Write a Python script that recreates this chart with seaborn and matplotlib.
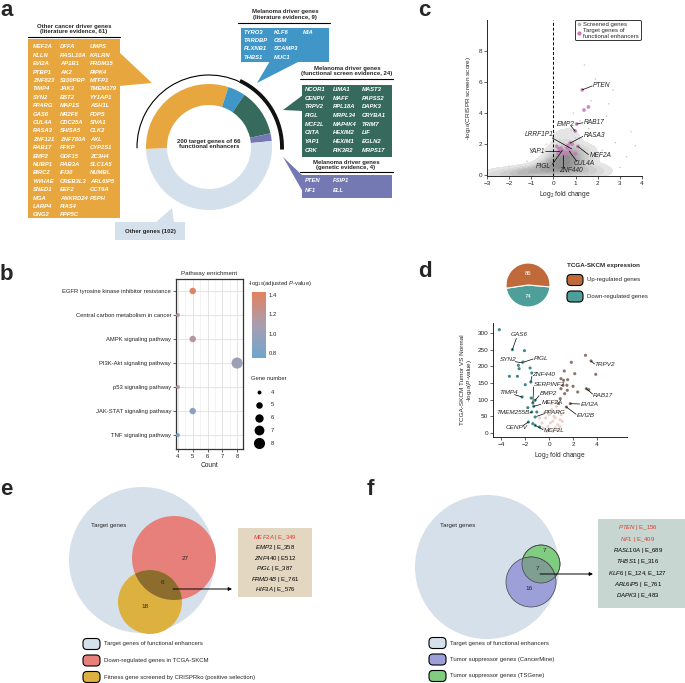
import matplotlib as mpl
import matplotlib.pyplot as plt
import numpy as np
import pandas as pd
import seaborn as sns
from matplotlib.colors import LinearSegmentedColormap, Normalize
from matplotlib.patches import Arc, Circle, FancyBboxPatch, Polygon, Rectangle

W, H = 685, 683

# ---- panel a: target genes grouped by evidence ----
group_counts = [61, 9, 24, 4, 102]
group_colors = ["#e8a73e", "#3f96c7", "#366a5c", "#7478b3", "#d4e0eb"]

other_cancer_cols = [
    ["MEF2A", "KLLN", "EVI2A", "PTBP1", "ZNF823", "TIMP4", "SYN2", "PPARG", "GAS6", "CUL4A", "RASA3",
     "ZNF121", "RAB17", "EMP2", "NUBP1", "BIRC2", "YWHAE", "SNED1", "MGA", "LARP4", "GNG2"],
    ["DFFA", "RASL10A", "AP1B1", "AK2", "S100PBP", "JAK3", "BST2", "MAP1S", "NR2F6", "CDC25A", "SHISA5",
     "ZNF780A", "PFKP", "GDF15", "RAB3A", "IFI30", "CREB3L3", "EEF2", "ANKRD24", "PIAS4", "PPP5C"],
    ["UMPS", "KALRN", "PRDM15", "RIPK4", "MTFP1", "TMEM179", "YY1AP1", "ASH1L", "FDPS", "SIVA1", "CLK2",
     "AXL", "CYP2S1", "ZC3H4", "SLC1A5", "NUMBL", "ARL6IP5", "CCT6A", "PSPH"],
]
melanoma_lit_cols = [["TYRO3", "TARDBP", "PLXNB1", "THBS1"], ["KLF6", "OSM", "SCAMP3", "MUC1"], ["MIA"]]
melanoma_screen_cols = [
    ["NCOR1", "CENPV", "TRPV2", "PIGL", "MCF2L", "CIITA", "YAP1", "CRK"],
    ["LIMA1", "MAFF", "RPL18A", "MRPL34", "MAP4K4", "HEXIM2", "HEXIM1", "PIK3R2"],
    ["MAST3", "PAPSS2", "DAPK3", "CRYBA1", "TRIM7", "LIF", "EGLN2", "MRPS17"],
]
melanoma_genetic_cols = [["PTEN", "NF1"], ["FSIP1", "ELL"]]

# ---- panel b: pathway enrichment ----
pathways = ["EGFR tyrosine kinase inhibitor resistance", "Central carbon metabolism in cancer",
            "AMPK signaling pathway", "PI3K-Akt signaling pathway", "p53 signaling pathway",
            "JAK-STAT signaling pathway", "TNF signaling pathway"]
pathway_counts = [5, 4, 5, 8, 4, 5, 4]
pathway_logp = [1.40, 1.18, 1.16, 1.02, 1.18, 0.92, 0.78]

# ---- panel c: CRISPR screen ----
# dense part of the screened-gene cloud
cloud_x = [0.1, 0.3, 0.5, 0.7, 0.9, 1.1, 0.2, 0.4, 0.6, 0.8, 1.0, 0.3, 0.5, 0.7, 0.9, 0.4, 0.6, 0.8,
           0.5, 0.7, 0.6, 0.5, 0.3, 0.2, 1.0, 1.2, 0.0, 0.1, 0.5, 0.6, 0.4, 0.7,
           -2.8, -2.4, -2.0, -1.7, -1.4, -1.2, -1.0, -0.8, -0.6, -0.4, -0.3, -0.2, -0.1, -0.5, -1.5,
           1.4, 1.6, 1.8, 2.1, 1.3, 1.5]
cloud_y = [0.2, 0.3, 0.2, 0.3, 0.2, 0.3, 0.6, 0.7, 0.6, 0.7, 0.6, 1.0, 1.1, 1.0, 1.1, 1.4, 1.5, 1.4,
           1.9, 1.8, 2.3, 2.7, 1.7, 1.2, 1.3, 0.9, 0.5, 0.9, 0.5, 0.9, 1.2, 1.6,
           0.05, 0.1, 0.1, 0.15, 0.2, 0.3, 0.2, 0.35, 0.3, 0.45, 0.7, 0.3, 0.9, 0.1, 0.05,
           0.4, 0.2, 0.3, 0.1, 1.6, 1.1]
# sparse screened genes
sparse_x = [0.8, 1.0, 0.3, 1.2, 1.6, 2.0, 0.9, 1.7, 2.4, 2.7, 0.4, -0.3, -0.6, 2.2, 2.8, 3.3, 3.0,
            1.9, 2.5, 3.5, 1.4, -1.2, -2.0, 3.7]
sparse_y = [2.9, 2.4, 2.3, 3.5, 3.0, 2.6, 4.0, 4.8, 3.8, 5.5, 3.4, 2.0, 1.5, 1.6, 2.1, 1.2, 0.5,
            6.2, 4.6, 2.8, 7.1, 0.9, 0.6, 1.9]
target_x = [1.30, 1.38, 1.58, 1.05, 0.98, 0.75, 1.10, 0.62, 0.30, 0.72, 0.45, 0.22, 0.15, 0.33,
            0.55, 1.00, 0.85, 0.40, 0.65, 0.25]
target_y = [5.50, 4.20, 4.40, 3.30, 2.85, 2.07, 1.86, 1.75, 1.54, 1.54, 1.33, 1.40, 1.86, 1.75,
            1.45, 1.39, 2.00, 1.60, 1.90, 1.70]
# name, point x, point y, text x, text y, ha, line end x, line end y
c_labels = [
    ("PTEN", 1.30, 5.50, 1.78, 5.78, "left", 1.75, 5.75),
    ("RAB17", 1.05, 3.30, 1.35, 3.38, "left", 1.33, 3.38),
    ("EMP2", 0.98, 2.85, 0.55, 3.30, "center", 0.80, 3.15),
    ("RASA3", 0.75, 2.07, 1.38, 2.55, "left", 1.33, 2.50),
    ("LRRF1P1", 0.82, 1.70, -0.65, 2.65, "center", -0.05, 2.40),
    ("YAP1", 0.30, 1.54, -0.40, 1.52, "right", -0.35, 1.52),
    ("MEF2A", 1.10, 1.86, 1.62, 1.25, "left", 1.58, 1.33),
    ("CUL4A", 0.72, 1.54, 0.93, 0.73, "left", 1.05, 0.90),
    ("PIGL", 0.40, 1.60, -0.10, 0.55, "right", -0.05, 0.70),
    ("ZNF440", 0.45, 1.33, 0.80, 0.30, "center", 0.45, 0.48),
]

# ---- panel d: TCGA-SKCM expression ----
expr_counts = [74, 86]
expr_colors = ["#4e9e99", "#c06a3c"]
down_x = [-4.17, -3.08, -2.07, -2.58, -2.20, -2.52, -1.60, -3.33, -2.66, -1.46, -1.54, -2.00, -2.27,
          -1.51, -1.37, -1.18, -1.30, -1.79, -1.04, -1.46, -1.18, -1.74, -1.37, -1.18, -0.81]
down_y = [310, 250, 247, 203, 213, 193, 195, 170, 170, 180, 153, 145, 108, 105, 90, 98, 80, 76, 63,
          63, 48, 33, 28, 23, 18]
up_x = [3.03, 1.85, 3.50, 1.26, 2.13, 3.89, 0.98, 1.20, 1.54, 1.15, 1.48, 0.98, 1.51, 1.29, 1.99,
        3.10, 3.30, 2.38, 0.92, 1.76, 1.43, 0.78]
up_y = [233, 212, 216, 186, 178, 176, 163, 158, 160, 143, 143, 133, 128, 118, 140, 133, 130, 123,
        103, 88, 78, 88]
ns_x = [-0.6, -0.3, -0.1, 0.1, 0.3, 0.5, 0.7, 0.9, -0.4, 0.0, 0.2, 0.4, 0.6, 0.8, 1.0, -0.2, 0.1,
        0.3, 0.5, 0.7, -0.5, 0.9, 0.2, 0.6, 1.1, -0.8]
ns_y = [30, 45, 20, 10, 35, 15, 25, 40, 60, 55, 70, 50, 80, 65, 55, 5, 30, 5, 45, 10, 15, 20, 88, 95, 35, 45]
d_labels = [
    ("GAS6", -3.08, 250, -2.50, 295, "center", -2.75, 284),
    ("SYN2", -2.20, 210, -3.40, 220, "center", -2.85, 214),
    ("PIGL", -2.10, 213, -1.30, 224, "left", -1.35, 222),
    ("ZNF440", -1.54, 153, -1.42, 177, "left", -1.45, 170),
    ("SERPINF2", -1.37, 90, -1.32, 145, "left", -1.30, 138),
    ("TIMP4", -2.27, 108, -3.42, 120, "center", -2.90, 115),
    ("BMP2", -1.18, 98, -0.78, 119, "left", -0.85, 112),
    ("MEF2A", -1.30, 80, -0.65, 90, "left", -0.70, 86),
    ("TMEM255B", -1.46, 63, -1.65, 60, "right", -1.62, 60),
    ("PPARG", -1.04, 50, -0.42, 60, "left", -0.48, 57),
    ("CENPV", -1.74, 33, -2.70, 16, "center", -2.20, 22),
    ("MCF2L", -1.18, 23, -0.48, 8, "left", -0.52, 10),
    ("TRPV2", 3.50, 216, 3.80, 205, "left", 3.78, 207),
    ("RAB17", 3.10, 133, 3.64, 113, "left", 3.62, 117),
    ("EVI2A", 1.76, 88, 2.60, 86, "left", 2.55, 87),
    ("EVI2B", 1.43, 78, 2.27, 52, "left", 2.25, 56),
]

# ---- panels e, f: overlaps ----
venn_e_numbers = ["27", "6", "18"]
venn_e_genes = [("MEF2A", "E_349"), ("EMP2", "E_358"), ("ZNF440", "E512"), ("PIGL", "E_387"),
                ("FRMD4B", "E_761"), ("HIF3A", "E_576")]
venn_e_legend = ["Target genes of functional enhancers", "Down-regulated genes in TCGA-SKCM",
                 "Fitness gene screened by CRISPRko (positive selection)"]
venn_f_numbers = ["7", "7", "16"]
venn_f_genes = [("PTEN", "E_156"), ("NF1", "E_409"), ("RASL10A", "E_689"), ("THBS1", "E_316"),
                ("KLF6", "E_124, E_127"), ("ARL6IP5", "E_761"), ("DAPK3", "E_483")]
venn_f_legend = ["Target genes of functional enhancers", "Tumor suppressor genes (CancerMine)",
                 "Tumor suppressor genes (TSGene)"]

sns.set_style("ticks")
plt.rcParams["font.family"] = ["Liberation Sans", "DejaVu Sans"]
plt.rcParams["mathtext.fontset"] = "custom"
plt.rcParams["mathtext.rm"] = "Liberation Sans"
plt.rcParams["mathtext.it"] = "Liberation Sans:italic"
plt.rcParams["mathtext.bf"] = "Liberation Sans:bold"
plt.rcParams["axes.linewidth"] = 0.7

fig = plt.figure(figsize=(W / 100, H / 100), dpi=100)


def fax(x0, y0, x1, y1):
    # axes from pixel box (top-left origin)
    return fig.add_axes([x0 / W, 1 - y1 / H, (x1 - x0) / W, (y1 - y0) / H])


ax0 = fax(0, 0, W, H)
ax0.set_xlim(0, W)
ax0.set_ylim(H, 0)
ax0.axis("off")

# panel letters
for lab, lx, ly in [("a", 0, 16), ("b", 0, 280), ("c", 418, 16), ("d", 418, 277), ("e", 0, 495), ("f", 367, 495)]:
    ax0.text(lx, ly, lab, fontsize=16, fontweight="bold", va="baseline", ha="left")

# ================= panel a =================
axa = fax(209 - 80, 147 - 80, 209 + 80, 147 + 80)
axa.pie(group_counts, colors=group_colors, radius=63, startangle=181.8, counterclock=False,
        wedgeprops=dict(width=21, edgecolor="none"))
axa.set_xlim(-80, 80)
axa.set_ylim(-80, 80)
axa.set_aspect("equal")
axa.axis("off")
axa.add_patch(Arc((0, 0), 144, 144, theta1=65, theta2=181, lw=0.8, color="black"))
axa.add_patch(Arc((0, 0), 146, 146, theta1=-2, theta2=65, lw=2.8, color="#111111"))
axa.text(0, 3, "200 target genes of 66\nfunctional enhancers", ha="center", va="center",
         fontsize=4.3, fontweight="bold", linespacing=1.0)


def callout(cols, box, tri, color, xcols, y0, dy, heading, hx, hy, line):
    x0, y0b, x1, y1b = box
    ax0.add_patch(Rectangle((x0, y0b), x1 - x0, y1b - y0b, color=color, lw=0))
    ax0.add_patch(Polygon(tri, closed=True, color=color, lw=0))
    for ci, col in enumerate(cols):
        for ri, g in enumerate(col):
            ax0.text(xcols[ci], y0 + ri * dy, g, color="white", fontsize=4.2, fontstyle="italic",
                     fontweight="bold", va="center", ha="left")
    if heading:
        ax0.text(hx, hy, heading, ha="center", va="center", fontsize=4.3, fontweight="bold",
                 linespacing=1.0)
        ax0.plot([line[0], line[1]], [line[2], line[2]], color="black", lw=0.8)


callout(other_cancer_cols, (28, 39, 120, 218), [(119, 52), (119, 86), (152, 83)], group_colors[0],
        [33, 60, 90], 47, 8.4, "Other cancer driver genes\n(literature evidence, 61)", 74, 29, (28, 120, 37))
callout(melanoma_lit_cols, (241, 28, 329, 62), [(270, 61), (300, 61), (257, 83)], group_colors[1],
        [244, 274, 303], 32, 8.4, "Melanoma driver genes\n(literature evidence, 9)", 285, 14.5, (238, 330, 23))
callout(melanoma_screen_cols, (302, 85, 392, 157), [(303, 95), (303, 111), (283, 110)], group_colors[2],
        [305, 333, 362], 89.5, 8.7, "Melanoma driver genes\n(functional screen evidence, 24)", 347, 71,
        (300, 393, 79))
callout(melanoma_genetic_cols, (302, 175, 392, 198), [(283, 157), (303, 176), (303, 192)], group_colors[3],
        [305, 333], 181, 9, "Melanoma driver genes\n(genetic evidence, 4)", 346, 165, (300, 393, 172))
ax0.add_patch(Rectangle((115, 222), 70, 18, color=group_colors[4], lw=0))
ax0.add_patch(Polygon([(155, 223), (174, 223), (172, 208)], closed=True, color=group_colors[4], lw=0))
ax0.text(150, 231.5, "Other genes (102)", ha="center", va="center", fontsize=4.3, fontweight="bold")

# ================= panel b =================
cmap_b = LinearSegmentedColormap.from_list("pb", ["#6ea6cd", "#a89eb0", "#e2825d"])
norm_b = Normalize(0.75, 1.43)
df_b = pd.DataFrame({"Pathway": pathways, "Count": pathway_counts, "logp": pathway_logp})
axb = fax(176, 279, 243, 449)
sns.scatterplot(data=df_b, x="Count", y="Pathway", hue="logp", palette=cmap_b, hue_norm=norm_b,
                size="Count", sizes=(8, 64), size_norm=(4, 8), legend=False, edgecolor="none",
                ax=axb, zorder=3)
axb.set_xlim(3.87, 8.4)
axb.set_ylim(6.58, -0.5)
axb.set_xticks([4, 5, 6, 7, 8])
axb.set_xticks([4.5, 5.5, 6.5, 7.5], minor=True)
axb.grid(True, which="major", color="#e4e4e4", lw=0.7)
axb.grid(True, which="minor", axis="x", color="#efefef", lw=0.5)
axb.set_axisbelow(True)
axb.tick_params(labelsize=4.2, length=2, width=0.5, pad=1.5, colors="#222222")
axb.tick_params(which="minor", length=0)
for s in axb.spines.values():
    s.set_color("#333333")
    s.set_linewidth(0.9)
axb.set_xlabel("Count", fontsize=4.8, labelpad=2)
axb.set_ylabel("")
axb.set_title("Pathway enrichment", fontsize=4.5, pad=3)

caxb = fax(252, 292, 266, 358)
cb = fig.colorbar(mpl.cm.ScalarMappable(norm=norm_b, cmap=cmap_b), cax=caxb, ticks=[0.8, 1.0, 1.2, 1.4])
cb.outline.set_visible(False)
caxb.tick_params(labelsize=4.2, length=3, width=0.6, color="white", direction="in", pad=2)
ax0.text(248, 283, "-log$_{10}$(adjusted $P$-value)", fontsize=4.2, va="center", ha="left")
ax0.text(251, 379, "Gene number", fontsize=4.2, va="center", ha="left")
for i, n in enumerate([4, 5, 6, 7, 8]):
    yy = 392 + i * 12.8
    ax0.scatter(259, yy, s=8 + (n - 4) * 14, color="black", lw=0)
    ax0.text(271, yy, str(n), fontsize=4.2, va="center", ha="left")

# ================= panel c =================
axc = fax(487, 20, 642, 176)
cmap_cloud = LinearSegmentedColormap.from_list("cloud", ["#ebebeb", "#8a8a8a"])
sns.kdeplot(x=cloud_x, y=cloud_y, fill=True, cmap=cmap_cloud, levels=10, thresh=0.04, bw_adjust=0.8,
            ax=axc, zorder=1)
sns.scatterplot(x=sparse_x, y=sparse_y, s=1.2, color="#c8c8c8", edgecolor="none", ax=axc, zorder=2)
sns.scatterplot(x=target_x, y=target_y, s=7, color="#c77bb8", edgecolor="none", alpha=0.9, ax=axc, zorder=3)
axc.axvline(0, color="black", ls=(0, (3, 2)), lw=0.7, zorder=4)
for name, px, py, tx, ty, ha, lx, ly in c_labels:
    axc.plot([px, lx], [py, ly], color="black", lw=0.5, zorder=5)
    axc.text(tx, ty, name, fontsize=4.8, fontstyle="italic", ha=ha, va="center", zorder=6)
axc.set_xlim(-3, 4)
axc.set_ylim(-0.05, 10)
axc.set_xticks(range(-3, 5))
axc.set_yticks([0, 2, 4, 6, 8])
sns.despine(ax=axc)
axc.tick_params(labelsize=4.6, length=2, width=0.5, pad=1.5)
axc.set_xlabel("Log$_2$ fold change", fontsize=4.8, labelpad=2)
axc.set_ylabel("-log$_{10}$(CRISPR screen score)", fontsize=4.6, labelpad=4)
h1 = plt.Line2D([], [], marker="o", ls="", color="#b5b5b5", markersize=1.6, label="Screened genes")
h2 = plt.Line2D([], [], marker="o", ls="", color="#c77bb8", markersize=2,
                label="Target genes of\nfunctional enhancers")
leg = axc.legend(handles=[h1, h2], loc="upper right", bbox_to_anchor=(1.01, 1.02), fontsize=4.3,
                 frameon=True, handletextpad=0.3, handlelength=0.8, borderpad=0.3, labelspacing=0.15,
                 fancybox=True)
leg.get_frame().set_edgecolor("black")
leg.get_frame().set_linewidth(0.7)

# ================= panel d =================
axp = fax(503, 260, 553, 310)
wedges, _ = axp.pie(expr_counts, colors=expr_colors, radius=22, startangle=-171.5, counterclock=True,
                    wedgeprops=dict(edgecolor="white", lw=0.8))
axp.set_xlim(-25, 25)
axp.set_ylim(-25, 25)
axp.set_aspect("equal")
axp.axis("off")
for w, n in zip(wedges, expr_counts):
    ang = np.deg2rad((w.theta1 + w.theta2) / 2)
    axp.text(12 * np.cos(ang), 12 * np.sin(ang), str(n), color="white", fontsize=4.3,
             ha="center", va="center")
ax0.text(567, 266, "TCGA-SKCM expression", fontsize=4.5, fontweight="bold", va="center")
for i, (c, t) in enumerate([(expr_colors[1], "Up-regulated genes"), (expr_colors[0], "Down-regulated genes")]):
    yy = 280 + i * 16.5
    ax0.add_patch(FancyBboxPatch((567, yy - 5.5), 16, 11, boxstyle="round,pad=0,rounding_size=4",
                                 fc=c, ec="black", lw=0.8))
    ax0.text(587, yy, t, fontsize=4.3, va="center")

axd = fax(493, 323, 627, 437)
sns.scatterplot(x=ns_x, y=ns_y, s=5, color="#ecd3cb", edgecolor="none", ax=axd, zorder=1)
sns.scatterplot(x=up_x, y=up_y, s=5, color="#8e7167", edgecolor="none", ax=axd, zorder=2)
sns.scatterplot(x=down_x, y=down_y, s=5, color="#3d8a86", edgecolor="none", ax=axd, zorder=2)
for name, px, py, tx, ty, ha, lx, ly in d_labels:
    axd.plot([px, lx], [py, ly], color="black", lw=0.5, zorder=3)
    axd.text(tx, ty, name, fontsize=4.6, fontstyle="italic", ha=ha, va="center", zorder=4)
axd.set_xlim(-4.7, 6.5)
axd.set_ylim(-12, 330)
axd.set_xticks([-4, -2, 0, 2, 4])
axd.set_yticks([0, 50, 100, 150, 200, 250, 300])
sns.despine(ax=axd)
axd.tick_params(labelsize=4.6, length=2, width=0.5, pad=1.5)
axd.set_xlabel("Log$_2$ fold change", fontsize=4.8, labelpad=2)
axd.set_ylabel("TCGA-SKCM Tumor VS Normal\n-log$_{10}$($P$-value)", fontsize=4.6, labelpad=2,
               linespacing=1.1)

# ================= panel e =================
ax0.add_patch(Circle((142, 560), 73, color="#d5e0eb", lw=0))
ax0.add_patch(Circle((174, 558), 42, color="#e77f7b", lw=0))
ax0.add_patch(Circle((150, 602), 32, color="#ddb13f", lw=0))
red_clip = Circle((174, 558), 42, transform=ax0.transData)
ov_e = Circle((150, 602), 32, color="#8d6d2e", lw=0)
ax0.add_patch(ov_e)
ov_e.set_clip_path(red_clip)
for t, (x, y) in zip(venn_e_numbers, [(185, 559), (162, 583), (145, 607)]):
    ax0.text(x, y, t, fontsize=4.6, ha="center", va="center")
ax0.text(91, 526, "Target genes", fontsize=4.4, va="center")
ax0.annotate("", xy=(232, 589), xytext=(173, 589),
             arrowprops=dict(arrowstyle="-|>", lw=0.7, color="black", mutation_scale=5, shrinkA=0, shrinkB=0))
ax0.add_patch(Rectangle((238, 528), 74, 69, color="#e3d7c2", lw=0))
for i, (g, e) in enumerate(venn_e_genes):
    col = "#e03c31" if i == 0 else "black"
    ax0.text(275, 537 + i * 10.6, "$\\mathit{%s}$ | %s" % (g, e), color=col, fontsize=4.3,
             ha="center", va="center")
for i, (c, t) in enumerate(zip(["#d5e0eb", "#e77f7b", "#ddb13f"], venn_e_legend)):
    yy = 644 + i * 16.5
    ax0.add_patch(FancyBboxPatch((83, yy - 5.5), 17, 11, boxstyle="round,pad=0,rounding_size=4",
                                 fc=c, ec="black", lw=0.8))
    ax0.text(104, yy, t, fontsize=4.3, va="center")

# ================= panel f =================
ax0.add_patch(Circle((487, 567), 72, color="#d5e0eb", lw=0))
ax0.add_patch(Circle((541, 564), 19, fc="#80cc80", ec="#444444", lw=0.5))
ax0.add_patch(Circle((531, 582), 25, fc="#9c9fd8", ec="#444444", lw=0.5))
green_clip = Circle((541, 564), 19, transform=ax0.transData)
ov_f = Circle((531, 582), 25, fc="#7f9f93", ec="#444444", lw=0.5)
ax0.add_patch(ov_f)
ov_f.set_clip_path(green_clip)
ax0.add_patch(Circle((541, 564), 19, fc="none", ec="#444444", lw=0.5))
for t, (x, y) in zip(venn_f_numbers, [(544, 551), (537, 569), (529, 588)]):
    ax0.text(x, y, t, fontsize=4.6, ha="center", va="center")
ax0.text(440, 525, "Target genes", fontsize=4.4, va="center")
ax0.annotate("", xy=(593, 574), xytext=(540, 574),
             arrowprops=dict(arrowstyle="-|>", lw=0.7, color="black", mutation_scale=5, shrinkA=0, shrinkB=0))
ax0.add_patch(Rectangle((598, 519), 87, 89, color="#c7d6d0", lw=0))
for i, (g, e) in enumerate(venn_f_genes):
    col = "#e03c31" if i < 2 else "black"
    ax0.text(638, 528 + i * 11.3, "$\\mathit{%s}$ | %s" % (g, e), color=col, fontsize=4.3,
             ha="center", va="center")
for i, (c, t) in enumerate(zip(["#d5e0eb", "#9c9fd8", "#80cc80"], venn_f_legend)):
    yy = 643 + i * 16.5
    ax0.add_patch(FancyBboxPatch((429, yy - 5.5), 17, 11, boxstyle="round,pad=0,rounding_size=4",
                                 fc=c, ec="black", lw=0.8))
    ax0.text(450, yy, t, fontsize=4.3, va="center")

fig.savefig("out.png", dpi=100)
